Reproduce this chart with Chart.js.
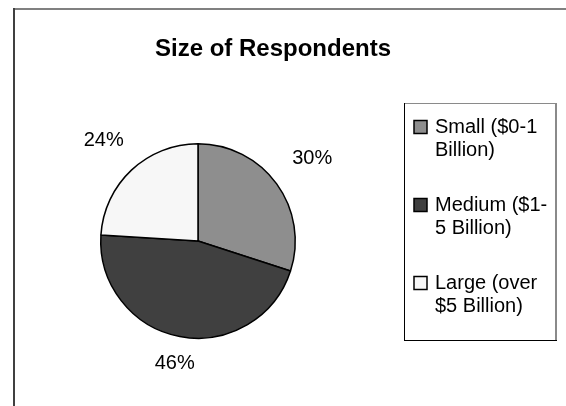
<!DOCTYPE html>
<html>
<head>
<meta charset="utf-8">
<script src="https://cdn.jsdelivr.net/npm/chart.js@4/dist/chart.umd.min.js"></script>
<style>
  html, body { margin: 0; padding: 0; background: #fff; }
  #wrap { width: 566px; height: 406px; position: relative; }
</style>
</head>
<body>
<div id="wrap"><canvas id="piechart" width="566" height="406"></canvas></div>
<script>
var chartTitle = 'Size of Respondents';
var categories = ['Small ($0-1 Billion)', 'Medium ($1-5 Billion)', 'Large (over $5 Billion)'];
var shares = [30, 46, 24];
var sliceColors = ['#8e8e8e', '#404040', '#f7f7f7'];

var FONT = '"Liberation Sans", Arial, sans-serif';

// split a legend label into lines, breaking after spaces or hyphens
function wrap(ctx, text, maxW) {
	var parts = text.match(/[^\s-]+-?|\s+/g);
	var lines = [], cur = '';
	parts.forEach(function (p) {
		var test = cur + p;
		if (cur && ctx.measureText(test.trim()).width > maxW) {
			lines.push(cur.trim());
			cur = p.trim() ? p : '';
		} else {
			cur = test;
		}
	});
	if (cur.trim()) lines.push(cur.trim());
	return lines;
}

var decor = {
	id: 'decor',
	afterDraw: function (chart) {
		var ctx = chart.ctx;
		ctx.save();

		// outer frame (only top and left edges visible)
		ctx.fillStyle = '#808080';
		ctx.fillRect(13, 8, 553, 2);
		ctx.fillStyle = '#404040';
		ctx.fillRect(13, 8, 2, 398);

		// title
		ctx.fillStyle = '#000';
		ctx.font = 'bold 24px ' + FONT;
		ctx.textAlign = 'center';
		ctx.textBaseline = 'middle';
		ctx.fillText(chartTitle, 273, 49);

		// percentage labels around the pie
		ctx.font = '20px ' + FONT;
		var total = shares.reduce(function (a, b) { return a + b; }, 0);
		chart.getDatasetMeta(0).data.forEach(function (arc, i) {
			var p = arc.getProps(['x', 'y', 'startAngle', 'endAngle', 'outerRadius'], true);
			var mid = (p.startAngle + p.endAngle) / 2;
			var dx = Math.cos(mid), dy = Math.sin(mid);
			var d = p.outerRadius + 22 + 27 * Math.abs(dx);
			ctx.fillText(Math.round(shares[i] / total * 100) + '%', p.x + dx * d, p.y + dy * d);
		});

		// legend box
		var bx = 404, by = 103, bw = 152, bh = 237;
		ctx.fillStyle = '#fff';
		ctx.fillRect(bx, by, bw, bh);
		ctx.fillStyle = '#8a8a8a';
		ctx.fillRect(bx, by, bw, 1);
		ctx.fillRect(bx + bw - 1, by, 2, bh);
		ctx.fillStyle = '#000';
		ctx.fillRect(bx, by, 1, bh);
		ctx.fillRect(bx, by + bh, bw + 1, 1);

		ctx.textAlign = 'left';
		categories.forEach(function (c, i) {
			var y0 = 127 + i * 78;
			ctx.fillStyle = sliceColors[i];
			ctx.fillRect(414, y0 - 6.5, 13, 13);
			ctx.strokeStyle = '#000';
			ctx.lineWidth = 1.5;
			ctx.strokeRect(414, y0 - 6.5, 13, 13);
			ctx.fillStyle = '#000';
			wrap(ctx, c, 116).forEach(function (line, j) {
				ctx.fillText(line, 435, y0 + j * 23.5);
			});
		});

		ctx.restore();
	}
};

new Chart(document.getElementById('piechart'), {
	type: 'pie',
	data: {
		labels: categories,
		datasets: [{
			data: shares,
			backgroundColor: sliceColors,
			borderColor: '#000',
			borderWidth: 1.5,
		}]
	},
	options: {
		responsive: false,
		animation: false,
		layout: {
			padding: { left: 100, right: 270, top: 143, bottom: 67 }
		},
		plugins: {
			legend: { display: false },
			title: { display: false },
			tooltip: { enabled: false },
		}
	},
	plugins: [decor]
});
</script>
</body>
</html>
